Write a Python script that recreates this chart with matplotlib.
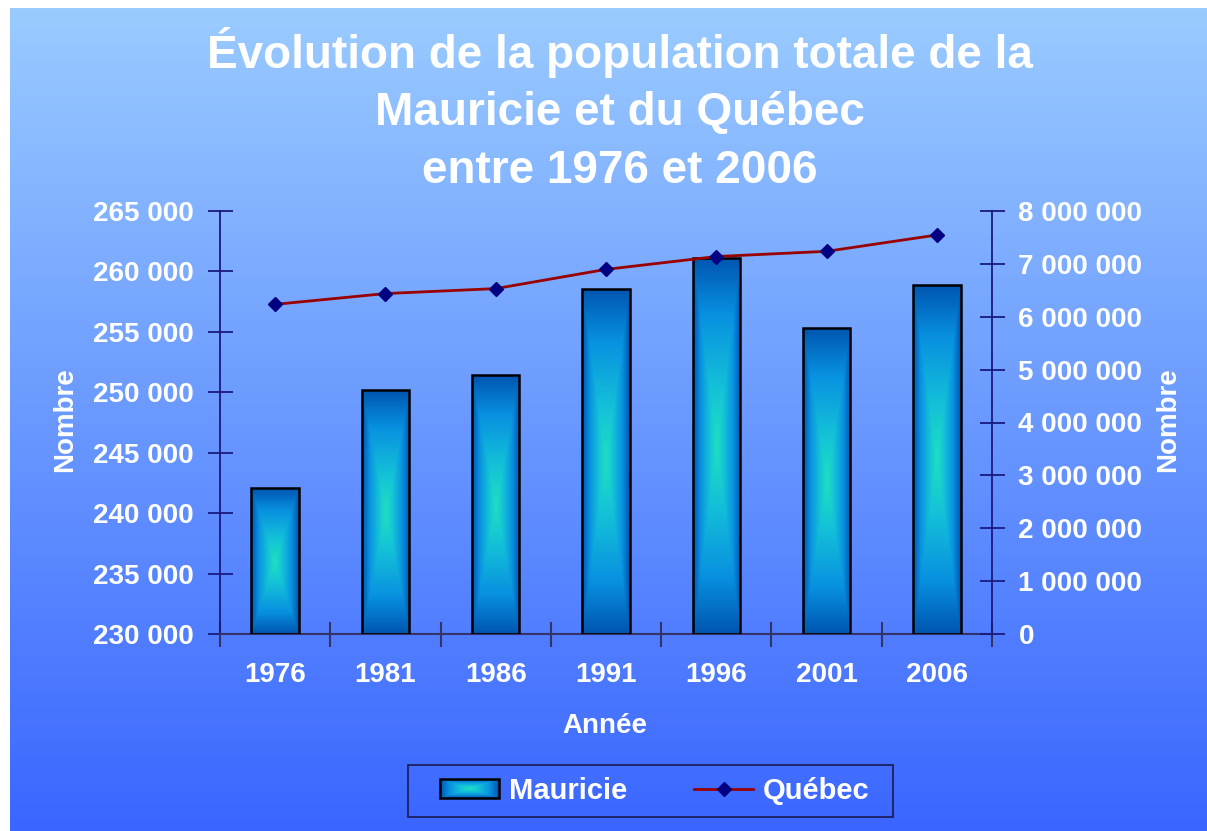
import matplotlib
matplotlib.use("Agg")
import numpy as np
import matplotlib.pyplot as plt
from matplotlib.colors import LinearSegmentedColormap
from matplotlib.patches import Patch, Rectangle
from matplotlib.lines import Line2D
from matplotlib.ticker import FuncFormatter, FixedLocator

plt.rcParams['font.family'] = ['Liberation Sans', 'DejaVu Sans']
plt.rcParams['font.weight'] = 'bold'

# data
years = ["1976", "1981", "1986", "1991", "1996", "2001", "2006"]
mauricie = [242050, 250150, 251400, 258550, 261150, 255300, 258900]
quebec = [6234445, 6438403, 6532461, 6895963, 7138795, 7237479, 7546131]

left_ticks = [230000, 235000, 240000, 245000, 250000, 255000, 260000, 265000]
right_ticks = [0, 1000000, 2000000, 3000000, 4000000, 5000000, 6000000, 7000000, 8000000]

W, H = 1207, 831
fig = plt.figure(figsize=(W / 100, H / 100), dpi=100)

# background gradient panel
bg = fig.add_axes([10 / W, 0, 1 - 10 / W, 1 - 8 / H], zorder=-10)
grad = np.linspace(0, 1, 256).reshape(-1, 1)
bg_cmap = LinearSegmentedColormap.from_list("bg", ["#9acbff", "#3a66ff"])
bg.imshow(grad, aspect="auto", cmap=bg_cmap, extent=[0, 1, 0, 1], origin="upper")
bg.set_axis_off()

bar_cmap = LinearSegmentedColormap.from_list(
    "bar", [(0.0, "#1ee0c0"), (0.3, "#14c2d8"), (0.7, "#0890e0"), (1.0, "#0056b0")])


def rect_gradient(nx, ny):
    u = np.abs(np.linspace(-1, 1, nx))[None, :]
    v = np.abs(np.linspace(-1, 1, ny))[:, None]
    return np.maximum(u, v)


ax = fig.add_axes([220 / W, 1 - 634 / H, (992 - 220) / W, (634 - 211) / H])
ax.set_facecolor("none")
ymin, ymax = left_ticks[0], left_ticks[-1]
x = np.arange(len(years))

bars = ax.bar(x, [v - ymin for v in mauricie], bottom=ymin, width=0.43,
              facecolor="none", edgecolor="black", linewidth=1.8, zorder=3)
for b in bars:
    x0, w, h = b.get_x(), b.get_width(), b.get_height()
    img = ax.imshow(rect_gradient(60, 200), cmap=bar_cmap, aspect="auto",
                    extent=[x0, x0 + w, ymin, ymin + h], zorder=2, vmin=0, vmax=1)
    img.set_clip_path(b)

ax.set_xlim(-0.5, len(years) - 0.5)
ax.set_ylim(ymin, ymax)
ax.set_yticks(left_ticks)
fmt = FuncFormatter(lambda v, p: f"{int(v):,}".replace(",", " "))
ax.yaxis.set_major_formatter(fmt)

# x axis: ticks at category boundaries, labels at centres
ax.xaxis.set_major_locator(FixedLocator(np.arange(-0.5, len(years), 1.0)))
ax.tick_params(axis="x", which="major", direction="inout", length=18, width=1.5,
               color="#333366", labelbottom=False)
ax.set_xticks(x, years, minor=True)
ax.tick_params(axis="x", which="minor", length=0, pad=20, labelsize=20,
               labelcolor="white")
ax.tick_params(axis="y", direction="inout", length=18, width=1.3, color="#1a1a80",
               labelsize=20, labelcolor="white", pad=10)

for s in ["top", "right"]:
    ax.spines[s].set_visible(False)
ax.spines["left"].set_color("#1a1a80")
ax.spines["left"].set_linewidth(1.3)
ax.spines["bottom"].set_color("#333366")
ax.spines["bottom"].set_linewidth(1.5)

ax2 = ax.twinx()
ax2.plot(x, quebec, color="#990000", linewidth=2, marker="D", markersize=7.5,
         markerfacecolor="#000080", markeredgecolor="#000080", zorder=4)
ax2.set_ylim(right_ticks[0], right_ticks[-1])
ax2.set_yticks(right_ticks)
ax2.yaxis.set_major_formatter(fmt)
ax2.tick_params(axis="y", direction="inout", length=18, width=1.3, color="#1a1a80",
                labelsize=20, labelcolor="white", pad=10)
for s in ["top", "left", "bottom"]:
    ax2.spines[s].set_visible(False)
ax2.spines["right"].set_color("#1a1a80")
ax2.spines["right"].set_linewidth(1.3)

# axis labels
fig.text(65 / W, 1 - 420 / H, "Nombre", rotation=90, ha="center", va="center",
         color="white", fontsize=20, fontweight="bold")
fig.text(1168 / W, 1 - 420 / H, "Nombre", rotation=90, ha="center", va="center",
         color="white", fontsize=20, fontweight="bold")
fig.text(605 / W, 1 - 726 / H, "Année", ha="center", va="center",
         color="white", fontsize=20, fontweight="bold")

# title
fig.text(620 / W, 1 - 110 / H,
         "Évolution de la population totale de la\nMauricie et du Québec\nentre 1976 et 2006",
         ha="center", va="center", color="white", fontsize=33, fontweight="bold",
         linespacing=1.4)

# legend (frame drawn separately to match the wide box)
fig.add_artist(Rectangle((408 / W, 1 - 817 / H), (893 - 408) / W, (817 - 765) / H,
                         transform=fig.transFigure, facecolor="none",
                         edgecolor="#1a1a50", linewidth=1.2, zorder=5))
handles = [Patch(facecolor="none", edgecolor="black", linewidth=1.8),
           Line2D([], [], color="#990000", linewidth=2, marker="D", markersize=7.5,
                  markerfacecolor="#000080", markeredgecolor="#000080")]
leg = fig.legend(handles, ["Mauricie", "Québec"], loc="center",
                 bbox_to_anchor=(655 / W, 1 - 791 / H), ncol=2, fontsize=21,
                 frameon=False, handlelength=2.0, handleheight=0.62,
                 handletextpad=0.35, columnspacing=2.3)
for t in leg.get_texts():
    t.set_color("white")

fig.canvas.draw()
bb = leg.legend_handles[0].get_window_extent()
hax = fig.add_axes([bb.x0 / W, bb.y0 / H, bb.width / W, bb.height / H], zorder=4)
hax.imshow(rect_gradient(120, 40), cmap=bar_cmap, aspect="auto", vmin=0, vmax=1)
hax.set_axis_off()

fig.savefig("out.png", dpi=100)
